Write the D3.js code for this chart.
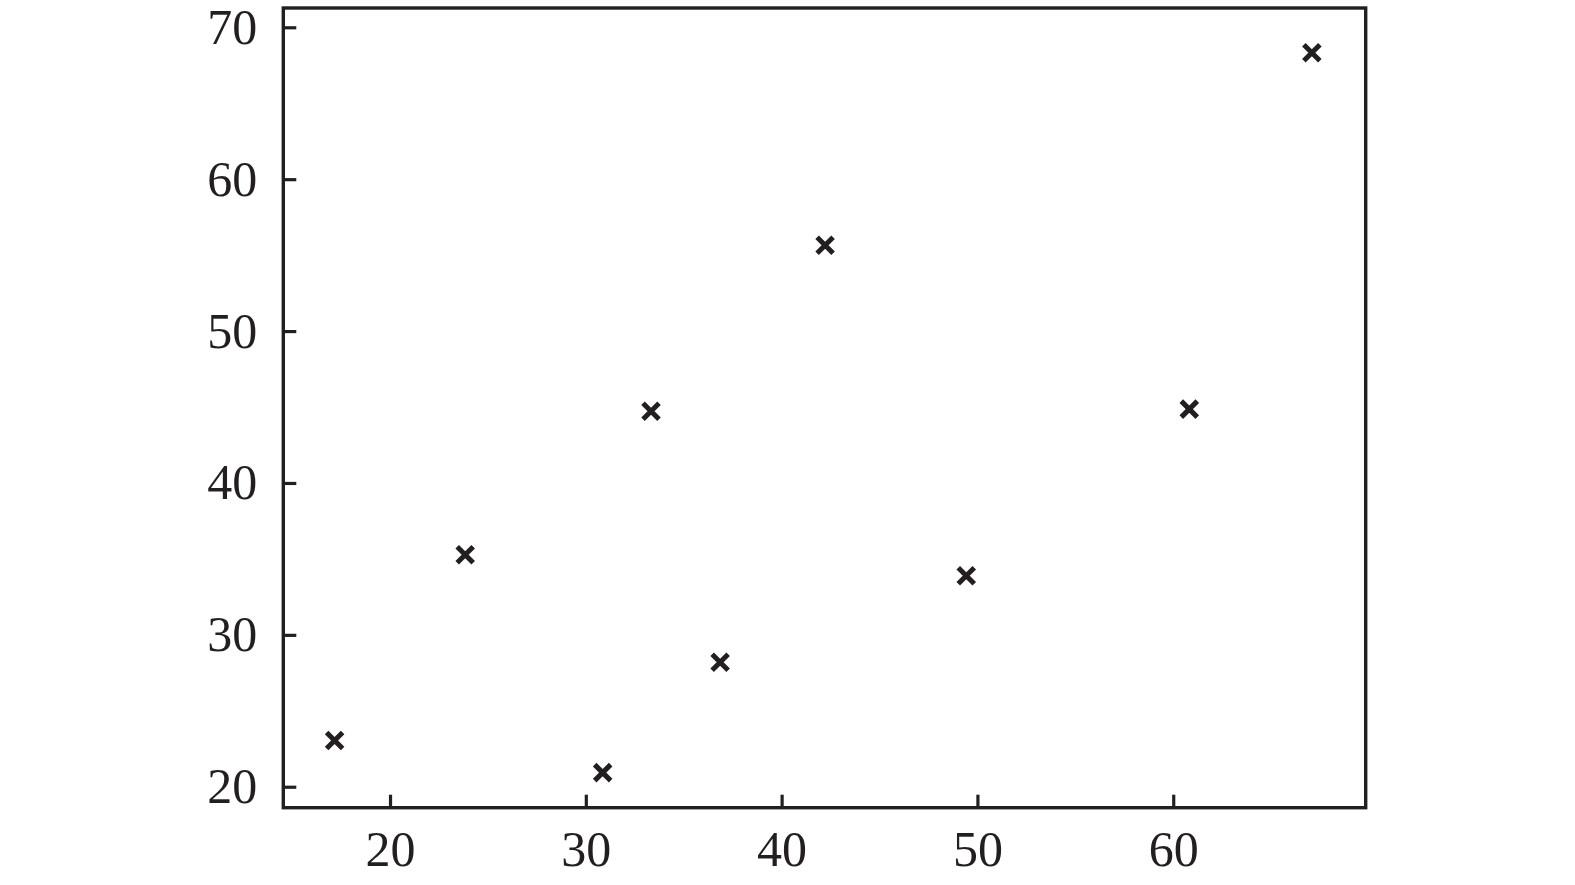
<!DOCTYPE html>
<html>
<head>
<meta charset="utf-8">
<script src="https://cdn.jsdelivr.net/npm/d3@7"></script>
<style>
  html, body { margin: 0; padding: 0; background: #fff; }
  svg { display: block; }
  .tick text { font-family: "Liberation Serif", Times, "Times New Roman", serif; font-size: 50px; }
</style>
</head>
<body>
<svg id="chart" width="1575" height="885"></svg>
<script>
const xValues = [17.17, 23.84, 30.86, 33.33, 36.86, 42.22, 49.43, 60.82, 67.08];
const yValues = [23.05, 35.28, 20.93, 44.72, 28.2, 55.65, 33.89, 44.86, 68.32];
const xTicks = [20, 30, 40, 50, 60];
const yTicks = [20, 30, 40, 50, 60, 70];

const W = 1575, H = 885;
const margin = {left: 283.3, right: 209.3, top: 8, bottom: 77.3};
const ink = "#231f20";

const svg = d3.select("#chart");
const x = d3.scaleLinear().domain([14.55, 69.83]).range([margin.left, W - margin.right]);
const y = d3.scaleLinear().domain([18.62, 71.27]).range([H - margin.bottom, margin.top]);

const xAxis = svg.append("g")
  .attr("transform", `translate(0,${H - margin.bottom})`)
  .call(d3.axisBottom(x).tickValues(xTicks).tickSize(-13).tickPadding(23).tickFormat(d3.format("d")));
const yAxis = svg.append("g")
  .attr("transform", `translate(${margin.left},0)`)
  .call(d3.axisLeft(y).tickValues(yTicks).tickSize(-13).tickPadding(26).tickFormat(d3.format("d")));

[xAxis, yAxis].forEach(g => {
  g.attr("font-family", null).attr("font-size", null);
  g.select(".domain").remove();
  g.selectAll(".tick line").attr("stroke", ink).attr("stroke-width", 3.2);
  g.selectAll(".tick text").attr("fill", ink);
});

// frame
svg.append("rect")
  .attr("x", margin.left).attr("y", margin.top)
  .attr("width", W - margin.right - margin.left)
  .attr("height", H - margin.bottom - margin.top)
  .attr("fill", "none").attr("stroke", ink).attr("stroke-width", 3.4);

const pts = xValues.map((v, i) => ({x: v, y: yValues[i]}));
const s = 8;
svg.append("g").selectAll("path")
  .data(pts).join("path")
  .attr("transform", d => `translate(${x(d.x)},${y(d.y)})`)
  .attr("d", `M${-s},${-s}L${s},${s}M${-s},${s}L${s},${-s}`)
  .attr("stroke", ink).attr("stroke-width", 5).attr("fill", "none");
</script>
</body>
</html>
